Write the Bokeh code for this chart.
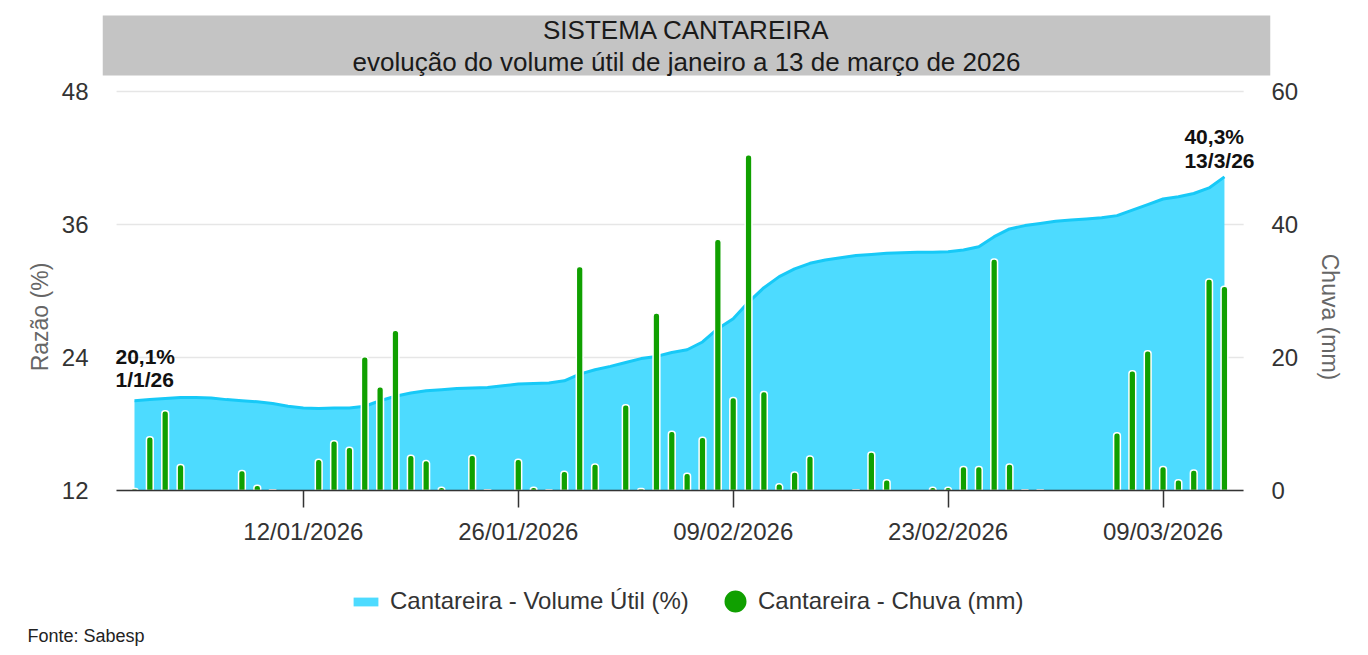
import pandas as pd
from bokeh.plotting import figure
from bokeh.models import (Range1d, LinearAxis, FixedTicker, DatetimeTickFormatter,
                          Label, BoxAnnotation, Legend, LegendItem, ColumnDataSource, Title)
from bokeh.embed import file_html
from bokeh.resources import INLINE

# ---------------- data ----------------
start_date = "2026-01-01"
end_date = "2026-03-13"

# Cantareira - Volume Útil (%) , daily
volume = [
    20.1, 20.2, 20.3, 20.4, 20.4, 20.35, 20.2, 20.1, 20.0, 19.85,
    19.6, 19.45, 19.4, 19.45, 19.45, 19.6, 20.1, 20.5, 20.8, 21.0,
    21.1, 21.2, 21.25, 21.3, 21.45, 21.6, 21.65, 21.7, 21.9, 22.5,
    22.9, 23.2, 23.55, 23.9, 24.1, 24.45, 24.7, 25.4, 26.6, 27.5,
    29.0, 30.3, 31.3, 32.0, 32.5, 32.8, 33.0, 33.2, 33.3, 33.4,
    33.45, 33.5, 33.5, 33.55, 33.7, 34.0, 34.9, 35.6, 35.9, 36.1,
    36.3, 36.4, 36.5, 36.6, 36.8, 37.3, 37.8, 38.3, 38.5, 38.8,
    39.3, 40.3,
]

# Cantareira - Chuva (mm), daily
rain = [
    0.3, 8.1, 12.0, 3.9, 0, 0, 0, 3.0, 0.8, 0.1,
    0, 0, 4.7, 7.5, 6.5, 20.1, 15.6, 24.1, 5.3, 4.5,
    0.5, 0, 5.3, 0.1, 0, 4.7, 0.5, 0.1, 2.9, 33.7,
    4.0, 0, 12.9, 0.3, 26.7, 8.9, 2.6, 8.0, 37.8, 14.0,
    50.5, 14.9, 1.0, 2.8, 5.2, 0, 0, 0.1, 5.8, 1.6,
    0, 0, 0.5, 0.5, 3.6, 3.6, 34.8, 4.0, 0.1, 0.1,
    0, 0, 0, 0, 8.7, 18.0, 21.0, 3.6, 1.6, 3.1,
    31.8, 30.7,
]

x_tick_labels = ["12/01/2026", "26/01/2026", "09/02/2026", "23/02/2026", "09/03/2026"]
left_ticks = [12, 24, 36, 48]
right_ticks = [0, 20, 40, 60]

title_text = "SISTEMA CANTAREIRA"
subtitle_text = "evolução do volume útil de janeiro a 13 de março de 2026"
series_names = ["Cantareira - Volume Útil (%)", "Cantareira - Chuva (mm)"]
left_label = "Razão (%)"
right_label = "Chuva (mm)"
source_text = "Fonte: Sabesp"
first_date_label = "1/1/26"
last_date_label = "13/3/26"

# ---------------- styling / geometry ----------------
FONT = "Liberation Sans"
AREA_FILL = "#4ddbff"
AREA_LINE = "#17c9f7"
GREEN = "#10a000"
DAY = 86400000.0

W, H = 1360, 647
B_LEFT, B_RIGHT, B_TOP, B_BOTTOM = 102, 90, 10, 24
FRAME_BOTTOM = H - B_BOTTOM          # px (canvas) of frame bottom
AXIS_Y = 490.0                       # px of the x axis / lowest tick
TOP_TICK_Y = 91.0                    # px of the highest tick

dates = pd.date_range(start_date, end_date, freq="D")
assert len(dates) == len(volume) == len(rain)

src_vol = ColumnDataSource(dict(date=dates, vol=volume))
rain_dates = [d for d, r in zip(dates, rain) if r > 0]
rain_vals = [r for r in rain if r > 0]
src_rain = ColumnDataSource(dict(date=rain_dates, rain=rain_vals))

x0 = dates[0] - pd.Timedelta(hours=50)
x1 = dates[-1] + pd.Timedelta(hours=72)
band0 = x0 + pd.Timedelta(hours=22)
band1 = x1 - pd.Timedelta(hours=42)


def span_range(ticks):
    ppu = (AXIS_Y - TOP_TICK_Y) / (ticks[-1] - ticks[0])
    lo = ticks[0] - (FRAME_BOTTOM - AXIS_Y) / ppu
    hi = ticks[0] + (AXIS_Y - B_TOP) / ppu
    return Range1d(lo, hi)


p = figure(width=W, height=H, x_axis_type="datetime",
           x_range=Range1d(x0, x1), y_range=span_range(left_ticks),
           output_backend="svg", toolbar_location=None,
           min_border_left=B_LEFT, min_border_right=B_RIGHT,
           min_border_top=B_TOP, min_border_bottom=B_BOTTOM,
           background_fill_color="white", border_fill_color="white", outline_line_color=None)
p.extra_y_ranges = {"rain": span_range(right_ticks)}

FB = FRAME_BOTTOM  # screen y inside the frame is measured up from its bottom

# title box
p.add_layout(BoxAnnotation(left=0, right=1168, bottom=FB - 75, top=FB - 15,
                           left_units="screen", right_units="screen",
                           bottom_units="screen", top_units="screen",
                           fill_color="#c4c4c4", fill_alpha=1.0, line_color=None, level="underlay"))

# grid lines across the plotting band
p.xgrid.visible = False
p.ygrid.visible = False
p.segment(x0=[band0] * len(left_ticks), x1=[band1] * len(left_ticks), y0=left_ticks, y1=left_ticks,
          line_color="#e6e6e6", line_width=1.5, level="underlay")

# area + line
area = p.varea(x="date", y1=left_ticks[0], y2="vol", source=src_vol, fill_color=AREA_FILL, fill_alpha=1.0)
line = p.line(x="date", y="vol", source=src_vol, line_color=AREA_LINE, line_width=3)

# rain bars
p.vbar(x="date", top="rain", bottom=0, width=0.44 * DAY, source=src_rain, y_range_name="rain",
       fill_color=GREEN, line_color="white", line_width=1.5, border_radius=(3, 3, 0, 0))

# hidden renderer used only for the legend marker
dot = p.scatter(x="date", y="rain", source=src_rain, marker="circle", size=10,
                fill_color=GREEN, line_color=GREEN, line_width=10.8, y_range_name="rain",
                visible=False)

# x axis drawn at the lowest tick of the left axis
xa = p.xaxis[0]
xa.fixed_location = left_ticks[0]
tick_ms = [pd.Timestamp(pd.to_datetime(t, format="%d/%m/%Y")).value / 1e6 for t in x_tick_labels]
xa.ticker = FixedTicker(ticks=tick_ms)
fmt = "%d/%m/%Y"
xa.formatter = DatetimeTickFormatter(days=fmt, months=fmt, years=fmt, hours=fmt, hourmin=fmt,
                                     minutes=fmt, minsec=fmt, seconds=fmt, milliseconds=fmt,
                                     microseconds=fmt)
xa.bounds = (band0, band1)
xa.axis_line_color = "#333333"
xa.axis_line_width = 1.5
xa.major_tick_line_color = "#333333"
xa.major_tick_line_width = 1.5
xa.major_tick_out = 17
xa.major_tick_in = 0
xa.minor_tick_line_color = None
xa.major_label_text_font = FONT
xa.major_label_text_font_size = "24px"
xa.major_label_text_color = "#333333"
xa.major_label_standoff = 10

ya = p.yaxis[0]
ya.ticker = FixedTicker(ticks=left_ticks)
ya.axis_label = left_label
yr = LinearAxis(y_range_name="rain", axis_label=right_label)
yr.ticker = FixedTicker(ticks=right_ticks)
p.add_layout(yr, "right")
for ax in (ya, yr):
    ax.axis_line_color = None
    ax.major_tick_line_color = None
    ax.minor_tick_line_color = None
    ax.major_tick_out = 0
    ax.major_label_text_font = FONT
    ax.major_label_text_font_size = "24px"
    ax.major_label_text_color = "#333333"
    ax.axis_label_text_font = FONT
    ax.axis_label_text_font_size = "23px"
    ax.axis_label_text_font_style = "normal"
    ax.axis_label_text_color = "#666666"
ya.major_label_standoff = 14
yr.major_label_standoff = 1
ya.axis_label_standoff = 6
yr.axis_label_standoff = 16

# title texts
p.add_layout(Label(x=584, y=FB - 29, x_units="screen", y_units="screen", text=title_text,
                   text_align="center", text_baseline="middle", text_font=FONT,
                   text_font_size="26px", text_color="#1a1a1a"))
p.add_layout(Label(x=584, y=FB - 61, x_units="screen", y_units="screen", text=subtitle_text,
                   text_align="center", text_baseline="middle", text_font=FONT,
                   text_font_size="26px", text_color="#1a1a1a"))

# point annotations
def pct(v):
    return f"{v:.1f}%".replace(".", ",")

ann = dict(text_align="left", text_baseline="middle", text_font=FONT, text_font_size="21px",
           text_font_style="bold", text_color="#111111")
p.add_layout(Label(x=dates[0], y=volume[0], x_offset=-19, y_offset=44, text=pct(volume[0]), **ann))
p.add_layout(Label(x=dates[0], y=volume[0], x_offset=-19, y_offset=21, text=first_date_label, **ann))
p.add_layout(Label(x=dates[-1], y=volume[-1], x_offset=-40, y_offset=40, text=pct(volume[-1]), **ann))
p.add_layout(Label(x=dates[-1], y=volume[-1], x_offset=-40, y_offset=16, text=last_date_label, **ann))

# legends (inside the frame, below the x axis); location = bottom-left corner
common = dict(orientation="horizontal", padding=0, margin=0,
              border_line_color=None, background_fill_alpha=0, inactive_fill_alpha=0,
              label_text_font=FONT, label_text_font_size="24px", label_text_color="#333333")
leg_a = Legend(items=[LegendItem(label=series_names[0], renderers=[area])],
               location=(248, FB - 615), glyph_width=31, glyph_height=11, label_standoff=9,
               **common)
leg_b = Legend(items=[LegendItem(label=series_names[1], renderers=[dot])],
               location=(619, FB - 615), glyph_width=28, glyph_height=28, label_standoff=9,
               **common)
p.add_layout(leg_a)
p.add_layout(leg_b)

# source note
src_title = Title(text=source_text, align="left", offset=-75, standoff=0,
                  text_font=FONT, text_font_size="18px", text_font_style="normal",
                  text_color="#222222")
p.add_layout(src_title, "below")

open("out.html", "w").write(file_html(p, INLINE))
